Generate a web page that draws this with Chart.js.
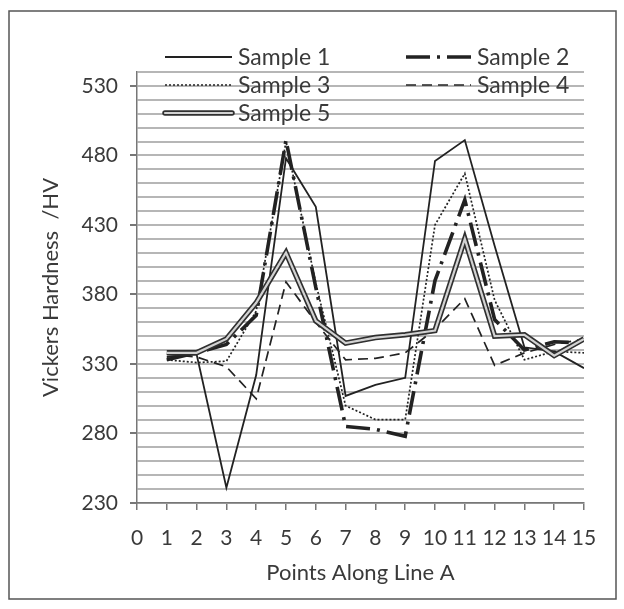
<!DOCTYPE html>
<html><head><meta charset="utf-8">
<script src="https://cdn.jsdelivr.net/npm/chart.js@4.4.0/dist/chart.umd.min.js"></script>
<style>html,body{margin:0;padding:0;background:#fff;}canvas{display:block;}</style>
</head><body>
<canvas id="c" width="624" height="609"></canvas>
<script>
// ---- data ----
const points = [1, 2, 3, 4, 5, 6, 7, 8, 9, 10, 11, 12, 13, 14, 15];
const xTickLabels = [0, 1, 2, 3, 4, 5, 6, 7, 8, 9, 10, 11, 12, 13, 14, 15];
const yTickLabels = [230, 280, 330, 380, 430, 480, 530];
const seriesNames = ['Sample 1', 'Sample 2', 'Sample 3', 'Sample 4', 'Sample 5'];
const sample1 = [335, 337, 241, 322, 478, 443, 307, 315, 320, 476, 491, 415, 342, 339, 327];
const sample2 = [333, 338, 344, 365, 491, 385, 285, 283, 278, 390, 448, 362, 340, 346, 345];
const sample3 = [333, 331, 332, 368, 490, 388, 300, 290, 290, 430, 467, 376, 333, 339, 338];
const sample4 = [337, 335, 328, 305, 389, 360, 333, 334, 338, 355, 377, 329, 338, 344, 348];
const sample5 = [338, 338, 348, 374, 410, 361, 345, 349, 351, 354, 420, 350, 351, 336, 348];

// ---- styling ----
const FONT = 'Lato, "Open Sans", sans-serif';
const TEXT = '#3a3a3a';
const INK = '#222222';
const styles = [
  { borderColor: INK, borderWidth: 1.8, borderDash: [], order: 2 },
  { borderColor: INK, borderWidth: 3.6, borderDash: [24, 7, 3, 7], order: 2 },
  { borderColor: INK, borderWidth: 1.7, borderDash: [2, 2], order: 2 },
  { borderColor: INK, borderWidth: 1.7, borderDash: [10, 6], order: 2 },
  { borderColor: '#303030', borderWidth: 5.5, borderDash: [], order: 1 }
];
const innerStyle = { borderColor: '#d2d2d2', borderWidth: 2.2, borderDash: [], order: 0 };

const seriesValues = [sample1, sample2, sample3, sample4, sample5];
const toXY = (vals) => points.map((p, i) => ({ x: p, y: vals[i] }));
const datasets = seriesValues.map((vals, i) => Object.assign({
  label: seriesNames[i], data: toXY(vals), pointRadius: 0, tension: 0, fill: false
}, styles[i]));
datasets.push(Object.assign({
  label: 'Sample 5 inner', data: toXY(sample5), pointRadius: 0, tension: 0, fill: false
}, innerStyle));

const frameAndBg = {
  id: 'frameAndBg',
  beforeDraw(chart) {
    const ctx = chart.ctx;
    ctx.save();
    ctx.fillStyle = '#ffffff';
    ctx.fillRect(0, 0, chart.width, chart.height);
    ctx.strokeStyle = '#555555';
    ctx.lineWidth = 1.5;
    ctx.strokeRect(9, 11, 607, 588);
    ctx.restore();
  }
};

const legendSlots = [
  { x0: 165, x1: 232, tx: 238, y: 57 },
  { x0: 406, x1: 471, tx: 477, y: 57 },
  { x0: 165, x1: 232, tx: 238, y: 85 },
  { x0: 406, x1: 471, tx: 477, y: 85 },
  { x0: 165, x1: 232, tx: 238, y: 113 }
];
const customLegend = {
  id: 'customLegend',
  afterDraw(chart) {
    const ctx = chart.ctx;
    ctx.save();
    seriesNames.forEach((name, i) => {
      const s = legendSlots[i];
      const st = styles[i];
      ctx.beginPath();
      ctx.setLineDash(st.borderDash);
      ctx.lineWidth = st.borderWidth;
      ctx.strokeStyle = st.borderColor;
      ctx.lineCap = i === 4 ? 'round' : 'butt';
      ctx.moveTo(s.x0, s.y);
      ctx.lineTo(s.x1, s.y);
      ctx.stroke();
      if (i === 4) {
        ctx.beginPath();
        ctx.lineWidth = innerStyle.borderWidth;
        ctx.strokeStyle = innerStyle.borderColor;
        ctx.moveTo(s.x0, s.y);
        ctx.lineTo(s.x1, s.y);
        ctx.stroke();
      }
      ctx.setLineDash([]);
      ctx.fillStyle = TEXT;
      ctx.font = '23px ' + FONT;
      ctx.textBaseline = 'middle';
      ctx.textAlign = 'left';
      ctx.fillText(name, s.tx, s.y + 1);
    });
    ctx.restore();
  }
};

new Chart(document.getElementById('c'), {
  type: 'line',
  data: { datasets },
  plugins: [frameAndBg, customLegend],
  options: {
    responsive: false,
    animation: false,
    layout: { padding: { top: 72, right: 40, left: 0, bottom: 0 } },
    plugins: { legend: { display: false }, tooltip: { enabled: false } },
    scales: {
      x: {
        type: 'linear', min: 0, max: 15,
        afterFit(scale) { scale.height = 106; },
        border: { display: true, color: '#777777', width: 1.5 },
        grid: { drawOnChartArea: false, drawTicks: true, tickLength: 7, tickColor: '#777777', lineWidth: 1.5 },
        ticks: {
          stepSize: 1, autoSkip: false, maxRotation: 0, padding: 16,
          color: TEXT, font: { family: FONT, size: 21 },
          callback: (v) => xTickLabels.includes(v) ? String(v) : ''
        },
        title: {
          display: true, text: 'Points Along Line A', color: TEXT,
          font: { family: FONT, size: 22 }, padding: { top: 0, bottom: 23 }
        }
      },
      y: {
        type: 'linear', min: 230, max: 540,
        afterFit(scale) { scale.width = 137; },
        border: { display: true, color: '#777777', width: 1.5 },
        grid: {
          color: '#b6b6b6', lineWidth: 2, tickLength: 7,
          tickColor: (c) => (c.tick && yTickLabels.includes(c.tick.value)) ? '#777777' : 'rgba(0,0,0,0)'
        },
        ticks: {
          stepSize: 10, autoSkip: false, padding: 12,
          color: TEXT, font: { family: FONT, size: 21 },
          callback: (v) => yTickLabels.includes(v) ? String(v) : ''
        },
        title: {
          display: true, text: 'Vickers Hardness  /HV', color: TEXT,
          font: { family: FONT, size: 22 }, padding: { top: 38, bottom: 0 }
        }
      }
    }
  }
});
</script>
</body></html>
